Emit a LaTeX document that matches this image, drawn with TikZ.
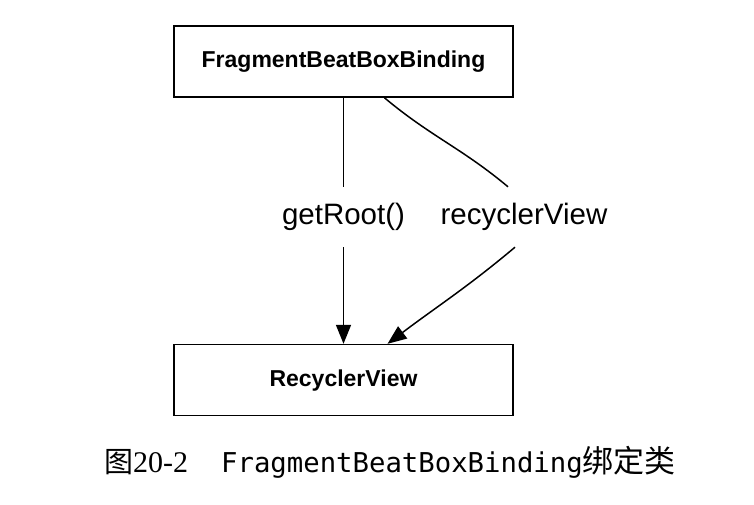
\documentclass[tikz,border=0pt]{standalone}
\usepackage{fontspec}
\setmainfont{Liberation Sans}
\newfontfamily\cjk{Noto Sans CJK SC}
\newfontfamily\capserif{Liberation Serif}
\newfontfamily\codefont{DejaVu Sans Mono}
\usetikzlibrary{positioning,arrows.meta}
\tikzset{block/.style={draw,line width=1.6pt,minimum width=339pt,minimum height=71pt,align=center,font=\fontsize{23}{26}\selectfont\bfseries},
         line/.style={-{Triangle[length=19pt,width=15pt]},line width=1.5pt},
         edgelabel/.style={inner xsep=2pt,inner ysep=0pt,minimum height=60pt,font=\fontsize{29.5}{32}\selectfont}
}

\begin{document}
\begin{tikzpicture}[x=1pt,y=-1pt]
  \useasboundingbox (0,0) rectangle (754,504);
  \node[block] (a) at (343.5,61.5) {FragmentBeatBoxBinding};
  \node[block, below=246pt of a] (b) {RecyclerView};
  \node[edgelabel] (g) at (343.5,217) {getRoot()};
  \node[edgelabel] (r) at (524,217) {recyclerView};
  \draw[line width=1.5pt] (a) -- (g);
  \draw[line] (g) -- (b);
  \draw[line width=1.5pt] ([xshift=41pt]a.south) to[out=-40,in=140] ([xshift=-16pt]r.north);
  \draw[line] ([xshift=-9pt]r.south) to[out=-140,in=37] ([xshift=44pt]b.north);
  % caption
  \node[anchor=base west,inner sep=0pt,font=\fontsize{27.3}{30}\selectfont] (cap) at (104,472)
    {{\cjk\fontsize{29}{30}\selectfont 图}{\capserif\fontsize{30}{30}\selectfont 20-2}\hspace{33pt}{\codefont FragmentBeatBoxBinding}{\cjk\fontsize{31}{30}\selectfont 绑定类}};
\end{tikzpicture}
\end{document}
